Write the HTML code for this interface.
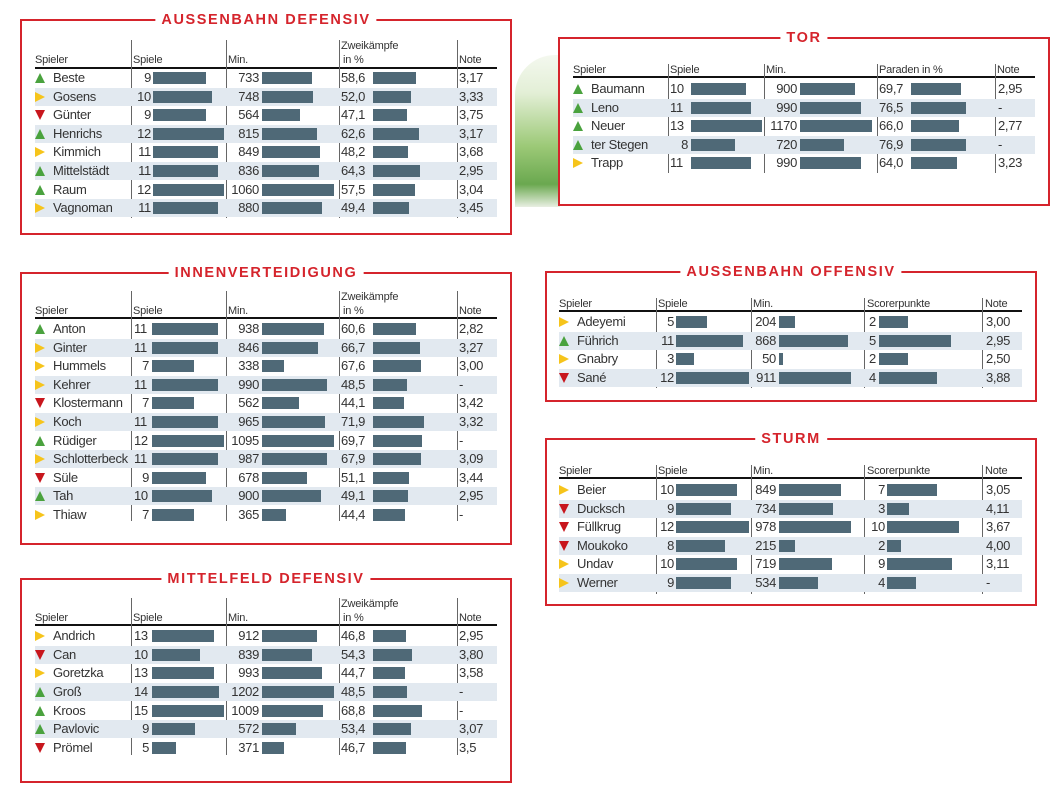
<!DOCTYPE html>
<html><head><meta charset="utf-8">
<style>
*{margin:0;padding:0;box-sizing:border-box}
body{width:1056px;height:792px;background:#fff;position:relative;overflow:hidden;font-family:"Liberation Sans Narrow","Liberation Sans",sans-serif;color:#2a2a2a}
.p{position:absolute;border:2px solid #d5242c}
.p .ti{position:absolute;top:-11px;left:50%;transform:translateX(-50%);background:#fff;color:#d5242c;font:bold 14.5px/20px "Liberation Sans",sans-serif;letter-spacing:1.6px;padding:0 6px;white-space:nowrap}
.h{position:absolute;font-size:11px;line-height:12px;color:#333;letter-spacing:-0.2px}
.hl{position:absolute;height:2px;background:#111}
.v{position:absolute;width:1px;background:#666}
.r{position:absolute;left:0;width:1056px;height:18px}
.r>*{position:absolute}
.s{top:0;height:18px;background:#e2e9f0}
.t{top:1px;font-size:13px;line-height:16px;white-space:nowrap;letter-spacing:-0.3px;color:#333}
.nr{width:34px;text-align:right}
.b{top:3px;height:12px;background:#4f6977}
.u{top:4px;width:0;height:0;border-left:5px solid transparent;border-right:5px solid transparent;border-bottom:10px solid #4aa23e}
.y{top:4px;width:0;height:0;border-top:5px solid transparent;border-bottom:5px solid transparent;border-left:10px solid #f6c41b}
.d{top:4px;width:0;height:0;border-left:5px solid transparent;border-right:5px solid transparent;border-top:10px solid #c8161d}
.grass{position:absolute;left:515px;top:55px;width:45px;height:152px;background:linear-gradient(180deg,#f4f8ef 0%,#e3efd6 25%,#9cc977 60%,#6aa84f 85%,#e8efe2 100%);border-radius:40px 0 0 0}
</style></head><body>

<div class="grass"></div>

<!-- AUSSENBAHN DEFENSIV -->
<div class="p" style="left:20px;top:19px;width:492px;height:216px"><div class="ti">AUSSENBAHN DEFENSIV</div></div>
<div class="h" style="left:35px;top:54px">Spieler</div>
<div class="h" style="left:133px;top:54px">Spiele</div>
<div class="h" style="left:228px;top:54px">Min.</div>
<div class="h" style="left:341px;top:40px">Zweikämpfe</div>
<div class="h" style="left:343px;top:54px">in %</div>
<div class="h" style="left:459px;top:54px">Note</div>
<div class="hl" style="left:35px;top:67px;width:462px"></div>
<div class="v" style="left:131px;top:40px;height:178px"></div>
<div class="v" style="left:226px;top:40px;height:178px"></div>
<div class="v" style="left:339px;top:40px;height:178px"></div>
<div class="v" style="left:457px;top:40px;height:178px"></div>

<div class="r" style="top:69px"><i class="u" style="left:35px"></i><span class="t" style="left:53px">Beste</span><span class="t nr" style="left:117px">9</span><i class="b" style="left:153px;width:53px"></i><span class="t nr" style="left:225px">733</span><i class="b" style="left:262px;width:50px"></i><span class="t" style="left:341px">58,6</span><i class="b" style="left:373px;width:43px"></i><span class="t" style="left:459px">3,17</span></div>
<div class="r" style="top:88px"><i class="s" style="left:35px;width:462px"></i><i class="y" style="left:35px"></i><span class="t" style="left:53px">Gosens</span><span class="t nr" style="left:117px">10</span><i class="b" style="left:153px;width:59px"></i><span class="t nr" style="left:225px">748</span><i class="b" style="left:262px;width:51px"></i><span class="t" style="left:341px">52,0</span><i class="b" style="left:373px;width:38px"></i><span class="t" style="left:459px">3,33</span></div>
<div class="r" style="top:106px"><i class="d" style="left:35px"></i><span class="t" style="left:53px">Günter</span><span class="t nr" style="left:117px">9</span><i class="b" style="left:153px;width:53px"></i><span class="t nr" style="left:225px">564</span><i class="b" style="left:262px;width:38px"></i><span class="t" style="left:341px">47,1</span><i class="b" style="left:373px;width:34px"></i><span class="t" style="left:459px">3,75</span></div>
<div class="r" style="top:125px"><i class="s" style="left:35px;width:462px"></i><i class="u" style="left:35px"></i><span class="t" style="left:53px">Henrichs</span><span class="t nr" style="left:117px">12</span><i class="b" style="left:153px;width:71px"></i><span class="t nr" style="left:225px">815</span><i class="b" style="left:262px;width:55px"></i><span class="t" style="left:341px">62,6</span><i class="b" style="left:373px;width:46px"></i><span class="t" style="left:459px">3,17</span></div>
<div class="r" style="top:143px"><i class="y" style="left:35px"></i><span class="t" style="left:53px">Kimmich</span><span class="t nr" style="left:117px">11</span><i class="b" style="left:153px;width:65px"></i><span class="t nr" style="left:225px">849</span><i class="b" style="left:262px;width:58px"></i><span class="t" style="left:341px">48,2</span><i class="b" style="left:373px;width:35px"></i><span class="t" style="left:459px">3,68</span></div>
<div class="r" style="top:162px"><i class="s" style="left:35px;width:462px"></i><i class="u" style="left:35px"></i><span class="t" style="left:53px">Mittelstädt</span><span class="t nr" style="left:117px">11</span><i class="b" style="left:153px;width:65px"></i><span class="t nr" style="left:225px">836</span><i class="b" style="left:262px;width:57px"></i><span class="t" style="left:341px">64,3</span><i class="b" style="left:373px;width:47px"></i><span class="t" style="left:459px">2,95</span></div>
<div class="r" style="top:181px"><i class="u" style="left:35px"></i><span class="t" style="left:53px">Raum</span><span class="t nr" style="left:117px">12</span><i class="b" style="left:153px;width:71px"></i><span class="t nr" style="left:225px">1060</span><i class="b" style="left:262px;width:72px"></i><span class="t" style="left:341px">57,5</span><i class="b" style="left:373px;width:42px"></i><span class="t" style="left:459px">3,04</span></div>
<div class="r" style="top:199px"><i class="s" style="left:35px;width:462px"></i><i class="y" style="left:35px"></i><span class="t" style="left:53px">Vagnoman</span><span class="t nr" style="left:117px">11</span><i class="b" style="left:153px;width:65px"></i><span class="t nr" style="left:225px">880</span><i class="b" style="left:262px;width:60px"></i><span class="t" style="left:341px">49,4</span><i class="b" style="left:373px;width:36px"></i><span class="t" style="left:459px">3,45</span></div>

<!-- TOR -->
<div class="p" style="left:558px;top:37px;width:492px;height:169px"><div class="ti">TOR</div></div>
<div class="h" style="left:573px;top:64px">Spieler</div>
<div class="h" style="left:670px;top:64px">Spiele</div>
<div class="h" style="left:766px;top:64px">Min.</div>
<div class="h" style="left:879px;top:64px">Paraden in %</div>
<div class="h" style="left:997px;top:64px">Note</div>
<div class="hl" style="left:573px;top:76px;width:462px"></div>
<div class="v" style="left:668px;top:64px;height:109px"></div>
<div class="v" style="left:764px;top:64px;height:109px"></div>
<div class="v" style="left:877px;top:64px;height:109px"></div>
<div class="v" style="left:995px;top:64px;height:109px"></div>

<div class="r" style="top:80px"><i class="u" style="left:573px"></i><span class="t" style="left:591px">Baumann</span><span class="t" style="left:670px">10</span><i class="b" style="left:691px;width:55px"></i><span class="t nr" style="left:763px">900</span><i class="b" style="left:800px;width:55px"></i><span class="t" style="left:879px">69,7</span><i class="b" style="left:911px;width:50px"></i><span class="t" style="left:998px">2,95</span></div>
<div class="r" style="top:99px"><i class="s" style="left:573px;width:462px"></i><i class="u" style="left:573px"></i><span class="t" style="left:591px">Leno</span><span class="t" style="left:670px">11</span><i class="b" style="left:691px;width:60px"></i><span class="t nr" style="left:763px">990</span><i class="b" style="left:800px;width:61px"></i><span class="t" style="left:879px">76,5</span><i class="b" style="left:911px;width:55px"></i><span class="t" style="left:998px">-</span></div>
<div class="r" style="top:117px"><i class="u" style="left:573px"></i><span class="t" style="left:591px">Neuer</span><span class="t" style="left:670px">13</span><i class="b" style="left:691px;width:71px"></i><span class="t nr" style="left:763px">1170</span><i class="b" style="left:800px;width:72px"></i><span class="t" style="left:879px">66,0</span><i class="b" style="left:911px;width:48px"></i><span class="t" style="left:998px">2,77</span></div>
<div class="r" style="top:136px"><i class="s" style="left:573px;width:462px"></i><i class="u" style="left:573px"></i><span class="t" style="left:591px">ter Stegen</span><span class="t nr" style="left:654px">8</span><i class="b" style="left:691px;width:44px"></i><span class="t nr" style="left:763px">720</span><i class="b" style="left:800px;width:44px"></i><span class="t" style="left:879px">76,9</span><i class="b" style="left:911px;width:55px"></i><span class="t" style="left:998px">-</span></div>
<div class="r" style="top:154px"><i class="y" style="left:573px"></i><span class="t" style="left:591px">Trapp</span><span class="t" style="left:670px">11</span><i class="b" style="left:691px;width:60px"></i><span class="t nr" style="left:763px">990</span><i class="b" style="left:800px;width:61px"></i><span class="t" style="left:879px">64,0</span><i class="b" style="left:911px;width:46px"></i><span class="t" style="left:998px">3,23</span></div>

<!-- INNENVERTEIDIGUNG -->
<div class="p" style="left:20px;top:272px;width:492px;height:273px"><div class="ti">INNENVERTEIDIGUNG</div></div>
<div class="h" style="left:35px;top:305px">Spieler</div>
<div class="h" style="left:133px;top:305px">Spiele</div>
<div class="h" style="left:228px;top:305px">Min.</div>
<div class="h" style="left:341px;top:291px">Zweikämpfe</div>
<div class="h" style="left:343px;top:305px">in %</div>
<div class="h" style="left:459px;top:305px">Note</div>
<div class="hl" style="left:35px;top:317px;width:462px"></div>
<div class="v" style="left:131px;top:291px;height:230px"></div>
<div class="v" style="left:226px;top:291px;height:230px"></div>
<div class="v" style="left:339px;top:291px;height:230px"></div>
<div class="v" style="left:457px;top:291px;height:230px"></div>

<div class="r" style="top:320px"><i class="u" style="left:35px"></i><span class="t" style="left:53px">Anton</span><span class="t" style="left:134px">11</span><i class="b" style="left:152px;width:66px"></i><span class="t nr" style="left:225px">938</span><i class="b" style="left:262px;width:62px"></i><span class="t" style="left:341px">60,6</span><i class="b" style="left:373px;width:43px"></i><span class="t" style="left:459px">2,82</span></div>
<div class="r" style="top:339px"><i class="s" style="left:35px;width:462px"></i><i class="y" style="left:35px"></i><span class="t" style="left:53px">Ginter</span><span class="t" style="left:134px">11</span><i class="b" style="left:152px;width:66px"></i><span class="t nr" style="left:225px">846</span><i class="b" style="left:262px;width:56px"></i><span class="t" style="left:341px">66,7</span><i class="b" style="left:373px;width:47px"></i><span class="t" style="left:459px">3,27</span></div>
<div class="r" style="top:357px"><i class="y" style="left:35px"></i><span class="t" style="left:53px">Hummels</span><span class="t nr" style="left:115px">7</span><i class="b" style="left:152px;width:42px"></i><span class="t nr" style="left:225px">338</span><i class="b" style="left:262px;width:22px"></i><span class="t" style="left:341px">67,6</span><i class="b" style="left:373px;width:48px"></i><span class="t" style="left:459px">3,00</span></div>
<div class="r" style="top:376px"><i class="s" style="left:35px;width:462px"></i><i class="y" style="left:35px"></i><span class="t" style="left:53px">Kehrer</span><span class="t" style="left:134px">11</span><i class="b" style="left:152px;width:66px"></i><span class="t nr" style="left:225px">990</span><i class="b" style="left:262px;width:65px"></i><span class="t" style="left:341px">48,5</span><i class="b" style="left:373px;width:34px"></i><span class="t" style="left:459px">-</span></div>
<div class="r" style="top:394px"><i class="d" style="left:35px"></i><span class="t" style="left:53px">Klostermann</span><span class="t nr" style="left:115px">7</span><i class="b" style="left:152px;width:42px"></i><span class="t nr" style="left:225px">562</span><i class="b" style="left:262px;width:37px"></i><span class="t" style="left:341px">44,1</span><i class="b" style="left:373px;width:31px"></i><span class="t" style="left:459px">3,42</span></div>
<div class="r" style="top:413px"><i class="s" style="left:35px;width:462px"></i><i class="y" style="left:35px"></i><span class="t" style="left:53px">Koch</span><span class="t" style="left:134px">11</span><i class="b" style="left:152px;width:66px"></i><span class="t nr" style="left:225px">965</span><i class="b" style="left:262px;width:63px"></i><span class="t" style="left:341px">71,9</span><i class="b" style="left:373px;width:51px"></i><span class="t" style="left:459px">3,32</span></div>
<div class="r" style="top:432px"><i class="u" style="left:35px"></i><span class="t" style="left:53px">Rüdiger</span><span class="t" style="left:134px">12</span><i class="b" style="left:152px;width:72px"></i><span class="t nr" style="left:225px">1095</span><i class="b" style="left:262px;width:72px"></i><span class="t" style="left:341px">69,7</span><i class="b" style="left:373px;width:49px"></i><span class="t" style="left:459px">-</span></div>
<div class="r" style="top:450px"><i class="s" style="left:35px;width:462px"></i><i class="y" style="left:35px"></i><span class="t" style="left:53px">Schlotterbeck</span><span class="t" style="left:134px">11</span><i class="b" style="left:152px;width:66px"></i><span class="t nr" style="left:225px">987</span><i class="b" style="left:262px;width:65px"></i><span class="t" style="left:341px">67,9</span><i class="b" style="left:373px;width:48px"></i><span class="t" style="left:459px">3,09</span></div>
<div class="r" style="top:469px"><i class="d" style="left:35px"></i><span class="t" style="left:53px">Süle</span><span class="t nr" style="left:115px">9</span><i class="b" style="left:152px;width:54px"></i><span class="t nr" style="left:225px">678</span><i class="b" style="left:262px;width:45px"></i><span class="t" style="left:341px">51,1</span><i class="b" style="left:373px;width:36px"></i><span class="t" style="left:459px">3,44</span></div>
<div class="r" style="top:487px"><i class="s" style="left:35px;width:462px"></i><i class="u" style="left:35px"></i><span class="t" style="left:53px">Tah</span><span class="t" style="left:134px">10</span><i class="b" style="left:152px;width:60px"></i><span class="t nr" style="left:225px">900</span><i class="b" style="left:262px;width:59px"></i><span class="t" style="left:341px">49,1</span><i class="b" style="left:373px;width:35px"></i><span class="t" style="left:459px">2,95</span></div>
<div class="r" style="top:506px"><i class="y" style="left:35px"></i><span class="t" style="left:53px">Thiaw</span><span class="t nr" style="left:115px">7</span><i class="b" style="left:152px;width:42px"></i><span class="t nr" style="left:225px">365</span><i class="b" style="left:262px;width:24px"></i><span class="t" style="left:341px">44,4</span><i class="b" style="left:373px;width:32px"></i><span class="t" style="left:459px">-</span></div>

<!-- MITTELFELD DEFENSIV -->
<div class="p" style="left:20px;top:578px;width:492px;height:205px"><div class="ti">MITTELFELD DEFENSIV</div></div>
<div class="h" style="left:35px;top:612px">Spieler</div>
<div class="h" style="left:133px;top:612px">Spiele</div>
<div class="h" style="left:228px;top:612px">Min.</div>
<div class="h" style="left:341px;top:598px">Zweikämpfe</div>
<div class="h" style="left:343px;top:612px">in %</div>
<div class="h" style="left:459px;top:612px">Note</div>
<div class="hl" style="left:35px;top:624px;width:462px"></div>
<div class="v" style="left:131px;top:598px;height:157px"></div>
<div class="v" style="left:226px;top:598px;height:157px"></div>
<div class="v" style="left:339px;top:598px;height:157px"></div>
<div class="v" style="left:457px;top:598px;height:157px"></div>

<div class="r" style="top:627px"><i class="y" style="left:35px"></i><span class="t" style="left:53px">Andrich</span><span class="t" style="left:134px">13</span><i class="b" style="left:152px;width:62px"></i><span class="t nr" style="left:225px">912</span><i class="b" style="left:262px;width:55px"></i><span class="t" style="left:341px">46,8</span><i class="b" style="left:373px;width:33px"></i><span class="t" style="left:459px">2,95</span></div>
<div class="r" style="top:646px"><i class="s" style="left:35px;width:462px"></i><i class="d" style="left:35px"></i><span class="t" style="left:53px">Can</span><span class="t" style="left:134px">10</span><i class="b" style="left:152px;width:48px"></i><span class="t nr" style="left:225px">839</span><i class="b" style="left:262px;width:50px"></i><span class="t" style="left:341px">54,3</span><i class="b" style="left:373px;width:39px"></i><span class="t" style="left:459px">3,80</span></div>
<div class="r" style="top:664px"><i class="y" style="left:35px"></i><span class="t" style="left:53px">Goretzka</span><span class="t" style="left:134px">13</span><i class="b" style="left:152px;width:62px"></i><span class="t nr" style="left:225px">993</span><i class="b" style="left:262px;width:60px"></i><span class="t" style="left:341px">44,7</span><i class="b" style="left:373px;width:32px"></i><span class="t" style="left:459px">3,58</span></div>
<div class="r" style="top:683px"><i class="s" style="left:35px;width:462px"></i><i class="u" style="left:35px"></i><span class="t" style="left:53px">Groß</span><span class="t" style="left:134px">14</span><i class="b" style="left:152px;width:67px"></i><span class="t nr" style="left:225px">1202</span><i class="b" style="left:262px;width:72px"></i><span class="t" style="left:341px">48,5</span><i class="b" style="left:373px;width:34px"></i><span class="t" style="left:459px">-</span></div>
<div class="r" style="top:702px"><i class="u" style="left:35px"></i><span class="t" style="left:53px">Kroos</span><span class="t" style="left:134px">15</span><i class="b" style="left:152px;width:72px"></i><span class="t nr" style="left:225px">1009</span><i class="b" style="left:262px;width:61px"></i><span class="t" style="left:341px">68,8</span><i class="b" style="left:373px;width:49px"></i><span class="t" style="left:459px">-</span></div>
<div class="r" style="top:720px"><i class="s" style="left:35px;width:462px"></i><i class="u" style="left:35px"></i><span class="t" style="left:53px">Pavlovic</span><span class="t nr" style="left:115px">9</span><i class="b" style="left:152px;width:43px"></i><span class="t nr" style="left:225px">572</span><i class="b" style="left:262px;width:34px"></i><span class="t" style="left:341px">53,4</span><i class="b" style="left:373px;width:38px"></i><span class="t" style="left:459px">3,07</span></div>
<div class="r" style="top:739px"><i class="d" style="left:35px"></i><span class="t" style="left:53px">Prömel</span><span class="t nr" style="left:115px">5</span><i class="b" style="left:152px;width:24px"></i><span class="t nr" style="left:225px">371</span><i class="b" style="left:262px;width:22px"></i><span class="t" style="left:341px">46,7</span><i class="b" style="left:373px;width:33px"></i><span class="t" style="left:459px">3,5</span></div>

<!-- AUSSENBAHN OFFENSIV -->
<div class="p" style="left:545px;top:271px;width:492px;height:131px"><div class="ti">AUSSENBAHN OFFENSIV</div></div>
<div class="h" style="left:559px;top:298px">Spieler</div>
<div class="h" style="left:658px;top:298px">Spiele</div>
<div class="h" style="left:753px;top:298px">Min.</div>
<div class="h" style="left:867px;top:298px">Scorerpunkte</div>
<div class="h" style="left:985px;top:298px">Note</div>
<div class="hl" style="left:559px;top:310px;width:463px"></div>
<div class="v" style="left:656px;top:298px;height:90px"></div>
<div class="v" style="left:751px;top:298px;height:90px"></div>
<div class="v" style="left:864px;top:298px;height:90px"></div>
<div class="v" style="left:982px;top:298px;height:90px"></div>

<div class="r" style="top:313px"><i class="y" style="left:559px"></i><span class="t" style="left:577px">Adeyemi</span><span class="t nr" style="left:640px">5</span><i class="b" style="left:676px;width:31px"></i><span class="t nr" style="left:742px">204</span><i class="b" style="left:779px;width:16px"></i><span class="t" style="left:869px">2</span><i class="b" style="left:879px;width:29px"></i><span class="t" style="left:986px">3,00</span></div>
<div class="r" style="top:332px"><i class="s" style="left:559px;width:463px"></i><i class="u" style="left:559px"></i><span class="t" style="left:577px">Führich</span><span class="t nr" style="left:640px">11</span><i class="b" style="left:676px;width:67px"></i><span class="t nr" style="left:742px">868</span><i class="b" style="left:779px;width:69px"></i><span class="t" style="left:869px">5</span><i class="b" style="left:879px;width:72px"></i><span class="t" style="left:986px">2,95</span></div>
<div class="r" style="top:350px"><i class="y" style="left:559px"></i><span class="t" style="left:577px">Gnabry</span><span class="t nr" style="left:640px">3</span><i class="b" style="left:676px;width:18px"></i><span class="t nr" style="left:742px">50</span><i class="b" style="left:779px;width:4px"></i><span class="t" style="left:869px">2</span><i class="b" style="left:879px;width:29px"></i><span class="t" style="left:986px">2,50</span></div>
<div class="r" style="top:369px"><i class="s" style="left:559px;width:463px"></i><i class="d" style="left:559px"></i><span class="t" style="left:577px">Sané</span><span class="t nr" style="left:640px">12</span><i class="b" style="left:676px;width:73px"></i><span class="t nr" style="left:742px">911</span><i class="b" style="left:779px;width:72px"></i><span class="t" style="left:869px">4</span><i class="b" style="left:879px;width:58px"></i><span class="t" style="left:986px">3,88</span></div>

<!-- STURM -->
<div class="p" style="left:545px;top:438px;width:492px;height:168px"><div class="ti">STURM</div></div>
<div class="h" style="left:559px;top:465px">Spieler</div>
<div class="h" style="left:658px;top:465px">Spiele</div>
<div class="h" style="left:753px;top:465px">Min.</div>
<div class="h" style="left:867px;top:465px">Scorerpunkte</div>
<div class="h" style="left:985px;top:465px">Note</div>
<div class="hl" style="left:559px;top:477px;width:463px"></div>
<div class="v" style="left:656px;top:465px;height:129px"></div>
<div class="v" style="left:751px;top:465px;height:129px"></div>
<div class="v" style="left:864px;top:465px;height:129px"></div>
<div class="v" style="left:982px;top:465px;height:129px"></div>

<div class="r" style="top:481px"><i class="y" style="left:559px"></i><span class="t" style="left:577px">Beier</span><span class="t nr" style="left:640px">10</span><i class="b" style="left:676px;width:61px"></i><span class="t nr" style="left:742px">849</span><i class="b" style="left:779px;width:62px"></i><span class="t nr" style="left:851px">7</span><i class="b" style="left:887px;width:50px"></i><span class="t" style="left:986px">3,05</span></div>
<div class="r" style="top:500px"><i class="s" style="left:559px;width:463px"></i><i class="d" style="left:559px"></i><span class="t" style="left:577px">Ducksch</span><span class="t nr" style="left:640px">9</span><i class="b" style="left:676px;width:55px"></i><span class="t nr" style="left:742px">734</span><i class="b" style="left:779px;width:54px"></i><span class="t nr" style="left:851px">3</span><i class="b" style="left:887px;width:22px"></i><span class="t" style="left:986px">4,11</span></div>
<div class="r" style="top:518px"><i class="d" style="left:559px"></i><span class="t" style="left:577px">Füllkrug</span><span class="t nr" style="left:640px">12</span><i class="b" style="left:676px;width:73px"></i><span class="t nr" style="left:742px">978</span><i class="b" style="left:779px;width:72px"></i><span class="t nr" style="left:851px">10</span><i class="b" style="left:887px;width:72px"></i><span class="t" style="left:986px">3,67</span></div>
<div class="r" style="top:537px"><i class="s" style="left:559px;width:463px"></i><i class="d" style="left:559px"></i><span class="t" style="left:577px">Moukoko</span><span class="t nr" style="left:640px">8</span><i class="b" style="left:676px;width:49px"></i><span class="t nr" style="left:742px">215</span><i class="b" style="left:779px;width:16px"></i><span class="t nr" style="left:851px">2</span><i class="b" style="left:887px;width:14px"></i><span class="t" style="left:986px">4,00</span></div>
<div class="r" style="top:555px"><i class="y" style="left:559px"></i><span class="t" style="left:577px">Undav</span><span class="t nr" style="left:640px">10</span><i class="b" style="left:676px;width:61px"></i><span class="t nr" style="left:742px">719</span><i class="b" style="left:779px;width:53px"></i><span class="t nr" style="left:851px">9</span><i class="b" style="left:887px;width:65px"></i><span class="t" style="left:986px">3,11</span></div>
<div class="r" style="top:574px"><i class="s" style="left:559px;width:463px"></i><i class="y" style="left:559px"></i><span class="t" style="left:577px">Werner</span><span class="t nr" style="left:640px">9</span><i class="b" style="left:676px;width:55px"></i><span class="t nr" style="left:742px">534</span><i class="b" style="left:779px;width:39px"></i><span class="t nr" style="left:851px">4</span><i class="b" style="left:887px;width:29px"></i><span class="t" style="left:986px">-</span></div>

</body></html>
